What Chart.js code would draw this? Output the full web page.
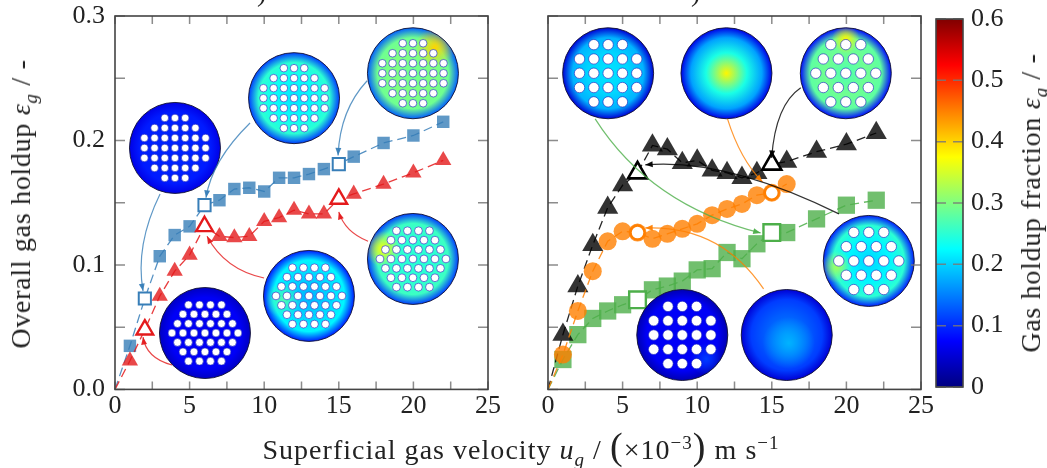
<!DOCTYPE html>
<html>
<head>
<meta charset="utf-8">
<script src="https://cdn.jsdelivr.net/npm/chart.js@4"></script>
<style>
  html, body { margin: 0; padding: 0; background: #fff; overflow: hidden; }
  canvas { position: absolute; top: 0; }
  .lbl {
    position: absolute; white-space: nowrap; color: #222;
    font-family: "Liberation Serif", serif; font-size: 28px; letter-spacing: 0.7px;
    transform: translate(-50%, -50%);
  }
  .rot { transform: translate(-50%, -50%) rotate(-90deg); }
  sub, sup { font-size: 19px; line-height: 0; }
  .big { font-size: 38px; line-height: 0; font-weight: 200; }
</style>
</head>
<body>
<canvas id="left" width="530" height="430" style="left:0"></canvas>
<canvas id="right" width="410" height="430" style="left:530px"></canvas>
<canvas id="bar" width="117" height="430" style="left:930px"></canvas>
<div class="lbl rot" style="left:21px;top:204px">Overall gas holdup <i>ε<sub>g</sub></i> / -</div>
<div class="lbl rot" style="left:1031px;top:203px">Gas holdup fraction <i>ε<sub>g</sub></i> / -</div>
<div class="lbl" style="left:521px;top:450px;letter-spacing:1.03px">Superficial gas velocity <i>u<sub>g</sub></i> / <span class="big">(</span>×10<sup>−3</sup><span class="big">)</span> m s<sup>−1</sup></div>
<div class="lbl" style="left:262px;top:-8px">)</div>
<div class="lbl" style="left:696px;top:-8px">)</div>
<script>
// ==========================================
// 1. DATA
// ==========================================
const velocity = [1, 2, 3, 4, 5, 6, 7, 8, 9, 10, 11, 12, 13, 14, 15, 16, 18, 20, 22];
const orangeVelocity = [1, 2, 3, 4, 5, 6, 7, 8, 9, 10, 11, 12, 13, 14, 15, 16];

const blueHoldup = [0.035, 0.073, 0.107, 0.124, 0.131, 0.148, 0.152, 0.161, 0.162, 0.159, 0.170, 0.170, 0.173, 0.177, 0.181, 0.187, 0.198, 0.204, 0.215];
const redHoldup = [0.023, 0.048, 0.075, 0.095, 0.108, 0.131, 0.123, 0.122, 0.123, 0.135, 0.138, 0.144, 0.141, 0.141, 0.153, 0.157, 0.165, 0.174, 0.184];
const blackHoldup = [0.044, 0.083, 0.116, 0.146, 0.164, 0.174, 0.196, 0.193, 0.182, 0.184, 0.176, 0.174, 0.17, 0.174, 0.181, 0.183, 0.191, 0.197, 0.206];
const orangeHoldup = [0.028, 0.063, 0.095, 0.119, 0.127, 0.126, 0.121, 0.125, 0.129, 0.133, 0.14, 0.145, 0.149, 0.156, 0.158, 0.165];
const greenHoldup = [0.024, 0.044, 0.057, 0.063, 0.068, 0.072, 0.08, 0.083, 0.087, 0.096, 0.097, 0.11, 0.105, 0.117, 0.126, 0.126, 0.137, 0.148, 0.152];

const leftHollow = [2, 6, 15];
const rightHollow = [6, 15];
const colorbarMax = [0.6];

// disk images, centre in data units: holes are [rows, pitchX, pitchY, holeRadius]
const squareBundle = [[3, 5, 7, 7, 7, 5, 3], 10.2, 10, 3.8];
const hexBundle = [[4, 5, 6, 7, 6, 5, 4], 11, 9.4, 3.9];
const sparseSquare = [[3, 5, 5, 5, 3], 14.3, 14.3, 5.2];
const sparseHex = [[3, 4, 5, 4, 3], 15, 14.3, 5.2];

const leftDisks = [
  { at: [4.02, 0.194], holes: squareBundle, rings: [0.095, 0.095, 0.09, 0.06], spots: [] },
  { at: [12.0, 0.234], holes: squareBundle, rings: [0.21, 0.23, 0.25, 0.11], spots: [] },
  { at: [19.97, 0.254], holes: squareBundle, rings: [0.29, 0.30, 0.29, 0.13], spots: [[22, -26, 20, 0.4]] },
  { at: [6.03, 0.0453], holes: hexBundle, rings: [0.065, 0.07, 0.07, 0.04], spots: [] },
  { at: [13.0, 0.0751], holes: hexBundle, rings: [0.18, 0.20, 0.22, 0.09], spots: [[-26, 4, 18, 0.27]] },
  { at: [19.97, 0.1048], holes: hexBundle, rings: [0.25, 0.25, 0.26, 0.11], spots: [[-30, -10, 18, 0.37]] },
];
const rightDisks = [
  { at: [4.03, 0.254], holes: sparseSquare, rings: [0.21, 0.2, 0.18, 0.05], spots: [] },
  { at: [11.96, 0.254], holes: null, rings: [0.38, 0.24, 0.17, 0.06], spots: [] },
  { at: [19.96, 0.254], holes: sparseHex, rings: [0.27, 0.29, 0.28, 0.08], spots: [[0, -34, 14, 0.38]] },
  { at: [21.5, 0.1032], holes: sparseHex, rings: [0.2, 0.22, 0.25, 0.09], spots: [[-32, 6, 16, 0.32]] },
  { at: [9.0, 0.0437], holes: sparseSquare, rings: [0.07, 0.07, 0.07, 0.03], spots: [[24, 24, 16, 0.11]] },
  { at: [16.0, 0.0437], holes: null, rings: [0.15, 0.13, 0.11, 0.05], spots: [[2, 8, 26, 0.18]] },
];

// connectors from a disk to its hollow marker: [from, control, to], data units
const blue = "55, 126, 184", red = "228, 26, 28", green = "77, 175, 74", orange = "255, 127, 0", black = "0, 0, 0";
const leftArrows = [
  { rgb: blue, path: [[3.02, 0.157], [1.34, 0.116], [1.88, 0.079]] },
  { rgb: blue, path: [[9.05, 0.214], [6.5, 0.184], [6.1, 0.154]] },
  { rgb: blue, path: [[16.9, 0.248], [15.08, 0.2246], [14.95, 0.188]] },
  { rgb: red, path: [[3.82, 0.0196], [2.08, 0.0252], [1.88, 0.042]] },
  { rgb: red, path: [[9.99, 0.0895], [7.37, 0.096], [6.17, 0.123]] },
  { rgb: red, path: [[16.96, 0.119], [15.4, 0.1265], [15.0, 0.1426]] },
];
const rightArrows = [
  { rgb: green, path: [[3.16, 0.2174], [6.85, 0.148], [14.25, 0.1257]] },
  { rgb: orange, path: [[12.03, 0.2174], [12.9, 0.1844], [14.38, 0.1667]] },
  { rgb: orange, path: [[14.45, 0.0807], [11.56, 0.132], [6.52, 0.1297]] },
  { rgb: black, path: [[16.94, 0.2423], [15.25, 0.2286], [14.99, 0.186]] },
  { rgb: black, path: [[19.5, 0.141], [11.9, 0.186], [6.52, 0.1804]] },
];

// ==========================================
// 2. HELPERS
// ==========================================
const serif = "'Liberation Serif', serif";
const DISK_R = 45.5;

// matlab style jet for a holdup of 0 .. 0.6
function jet(v) {
  const t = v / 0.6;
  const ch = (c) => Math.round(255 * Math.max(0, Math.min(1, 1.5 - Math.abs(4 * t - c))));
  return `rgb(${ch(3)}, ${ch(2)}, ${ch(1)})`;
}

function drawDisk(ctx, x, y, disk) {
  ctx.save();
  ctx.beginPath();
  ctx.arc(x, y, DISK_R, 0, Math.PI * 2);
  const g = ctx.createRadialGradient(x, y, 0, x, y, DISK_R);
  [0, 0.45, 0.78, 1].forEach((stop, i) => g.addColorStop(stop, jet(disk.rings[i])));
  ctx.fillStyle = g;
  ctx.fill();
  ctx.clip();
  disk.spots.forEach(([dx, dy, r, v]) => {
    const s = ctx.createRadialGradient(x + dx, y + dy, 0, x + dx, y + dy, r);
    s.addColorStop(0, jet(v));
    s.addColorStop(1, jet(v).replace("rgb", "rgba").replace(")", ", 0)"));
    ctx.fillStyle = s;
    ctx.fillRect(x - DISK_R, y - DISK_R, DISK_R * 2, DISK_R * 2);
  });
  ctx.restore();

  ctx.beginPath();
  ctx.arc(x, y, DISK_R, 0, Math.PI * 2);
  ctx.strokeStyle = "rgba(20, 20, 50, 0.9)";
  ctx.lineWidth = 1;
  ctx.stroke();

  if (!disk.holes) return;
  const [rows, px, py, r] = disk.holes;
  rows.forEach((n, row) => {
    const hy = y + (row - (rows.length - 1) / 2) * py;
    for (let i = 0; i < n; i++) {
      const hx = x + (i - (n - 1) / 2) * px;
      ctx.beginPath();
      ctx.arc(hx, hy, r, 0, Math.PI * 2);
      ctx.fillStyle = "#fff";
      ctx.fill();
      ctx.strokeStyle = "rgba(30, 40, 190, 0.8)";
      ctx.lineWidth = 0.8;
      ctx.stroke();
    }
  });
}

function drawArrow(ctx, pts, rgb) {
  const [a, c, b] = pts;
  ctx.strokeStyle = `rgba(${rgb}, 0.8)`;
  ctx.fillStyle = `rgba(${rgb}, 0.95)`;
  ctx.lineWidth = 1.2;
  ctx.beginPath();
  ctx.moveTo(a[0], a[1]);
  ctx.quadraticCurveTo(c[0], c[1], b[0], b[1]);
  ctx.stroke();
  const ang = Math.atan2(b[1] - c[1], b[0] - c[0]);
  ctx.beginPath();
  ctx.moveTo(b[0], b[1]);
  ctx.lineTo(b[0] - 8 * Math.cos(ang - 0.38), b[1] - 8 * Math.sin(ang - 0.38));
  ctx.lineTo(b[0] - 8 * Math.cos(ang + 0.38), b[1] - 8 * Math.sin(ang + 0.38));
  ctx.closePath();
  ctx.fill();
}

// inward ticks on all four sides and the frame, chart.js only does outward ones
function drawFrame(chart, skipX) {
  const { ctx, chartArea: a, scales } = chart;
  ctx.save();
  ctx.strokeStyle = "rgba(120, 120, 120, 0.85)";
  ctx.lineWidth = 1.5;
  ctx.beginPath();
  if (!skipX) {
    scales.x.ticks.forEach((t) => {
      const x = scales.x.getPixelForValue(t.value);
      ctx.moveTo(x, a.bottom); ctx.lineTo(x, a.bottom - 8);
      ctx.moveTo(x, a.top); ctx.lineTo(x, a.top + 8);
    });
  }
  scales.y.ticks.forEach((t) => {
    const y = scales.y.getPixelForValue(t.value);
    ctx.moveTo(a.left, y); ctx.lineTo(a.left + 10, y);
    ctx.moveTo(a.right, y); ctx.lineTo(a.right - 10, y);
  });
  ctx.stroke();
  ctx.strokeStyle = "#444";
  ctx.lineWidth = 1.6;
  ctx.strokeRect(a.left, a.top, a.right - a.left, a.bottom - a.top);
  ctx.restore();
}

function overlayPlugin(disks, arrows) {
  return {
    id: "overlay",
    afterDatasetsDraw(chart) {
      const { ctx, scales } = chart;
      const toPx = (p) => [scales.x.getPixelForValue(p[0]), scales.y.getPixelForValue(p[1])];
      ctx.save();
      disks.forEach((d) => {
        const [x, y] = toPx(d.at);
        drawDisk(ctx, x, y, d);
      });
      arrows.forEach((a) => drawArrow(ctx, a.path.map(toPx), a.rgb));
      ctx.restore();
      drawFrame(chart, false);
    },
  };
}

// dashed line through the origin, marker on each measured point
function series(us, vals, rgb, style, radius) {
  return {
    data: [{ x: 0, y: 0 }, ...us.map((u, i) => ({ x: u, y: vals[i] }))],
    borderColor: `rgba(${rgb}, 0.85)`,
    borderWidth: 1.3,
    borderDash: [9, 5],
    backgroundColor: `rgba(${rgb}, 0.8)`,
    pointBackgroundColor: `rgba(${rgb}, 0.8)`,
    pointBorderWidth: 0,
    pointStyle: style,
    pointRadius: (c) => (c.dataIndex === 0 ? 0 : radius),
    tension: 0,
    clip: false,
    order: 10,
  };
}

function hollow(us, vals, wanted, rgb, style, radius, width) {
  return {
    data: wanted.map((u) => ({ x: u, y: vals[us.indexOf(u)] })),
    showLine: false,
    pointBackgroundColor: "#fff",
    pointBorderColor: `rgb(${rgb})`,
    pointBorderWidth: width,
    pointStyle: style,
    pointRadius: radius,
    clip: false,
    order: 1,
  };
}

// the tick labels must not push the plot area inwards
function noLabelPadding(s) {
  s.paddingTop = 0;
  s.paddingBottom = 0;
  s.paddingLeft = 0;
  s.paddingRight = 0;
}

function panel(id, left, datasets, plugin, showY) {
  const width = document.getElementById(id).width;
  return new Chart(document.getElementById(id), {
    type: "line",
    data: { datasets },
    plugins: [plugin],
    options: {
      responsive: false,
      animation: false,
      layout: { autoPadding: false, padding: { left: 0, right: width - left - 373, top: 16, bottom: 10.6 } },
      plugins: { legend: { display: false }, tooltip: { enabled: false } },
      scales: {
        x: {
          type: "linear", min: 0, max: 25,
          afterFit: (s) => { s.height = 30; noLabelPadding(s); },
          grid: { display: false, tickLength: 0 }, border: { display: false },
          ticks: {
            stepSize: 2.5, autoSkip: false, maxRotation: 0, padding: 1, color: "#222",
            font: { family: serif, size: 26 },
            callback: (v) => (v % 5 === 0 ? String(v) : ""),
          },
        },
        y: {
          min: 0, max: 0.3,
          afterFit: (s) => { s.width = left; noLabelPadding(s); },
          grid: { display: false, tickLength: 0 }, border: { display: false },
          ticks: {
            display: showY, stepSize: 0.05, autoSkip: false, padding: 10, color: "#222",
            font: { family: serif, size: 26 },
            callback: (v) => (Math.round(v * 100) % 10 === 0 ? v.toFixed(1) : ""),
          },
        },
      },
    },
  });
}

// ==========================================
// 3. CHARTS
// ==========================================
panel("left", 115, [
  hollow(velocity, blueHoldup, leftHollow, blue, "rect", 8.6, 2),
  hollow(velocity, redHoldup, leftHollow, red, "triangle", 9.6, 2.4),
  series(velocity, redHoldup, red, "triangle", 9.4),
  series(velocity, blueHoldup, blue, "rect", 8.8),
], overlayPlugin(leftDisks, leftArrows), true);

panel("right", 18, [
  hollow(velocity, greenHoldup, rightHollow, green, "rect", 11.8, 2.4),
  hollow(orangeVelocity, orangeHoldup, rightHollow, orange, "circle", 7, 2.4),
  hollow(velocity, blackHoldup, rightHollow, black, "triangle", 11, 2.6),
  series(orangeVelocity, orangeHoldup, orange, "circle", 9),
  series(velocity, blackHoldup, black, "triangle", 12.2),
  series(velocity, greenHoldup, green, "rect", 12.2),
], overlayPlugin(rightDisks, rightArrows), false);

new Chart(document.getElementById("bar"), {
  type: "bar",
  data: {
    labels: [""],
    datasets: [{
      data: colorbarMax,
      barPercentage: 1,
      categoryPercentage: 1,
      backgroundColor: (c) => {
        const a = c.chart.chartArea;
        if (!a) return "#00f";
        const g = c.chart.ctx.createLinearGradient(0, a.bottom, 0, a.top);
        for (let i = 0; i <= 24; i++) g.addColorStop(i / 24, jet(0.6 * i / 24));
        return g;
      },
    }],
  },
  plugins: [{ id: "barFrame", afterDatasetsDraw: (chart) => drawFrame(chart, true) }],
  options: {
    responsive: false,
    animation: false,
    layout: { autoPadding: false, padding: { left: 6, right: 0, top: 19, bottom: 43 } },
    plugins: { legend: { display: false }, tooltip: { enabled: false } },
    scales: {
      x: { display: false },
      y: {
        position: "right", min: 0, max: 0.6,
        afterFit: (s) => { s.width = 84; noLabelPadding(s); },
        grid: { display: false, tickLength: 0 }, border: { display: false },
        ticks: {
          stepSize: 0.1, padding: 8, color: "#222",
          font: { family: serif, size: 26 },
          callback: (v) => (v === 0 ? "0" : v.toFixed(1)),
        },
      },
    },
  },
});
</script>
</body>
</html>
